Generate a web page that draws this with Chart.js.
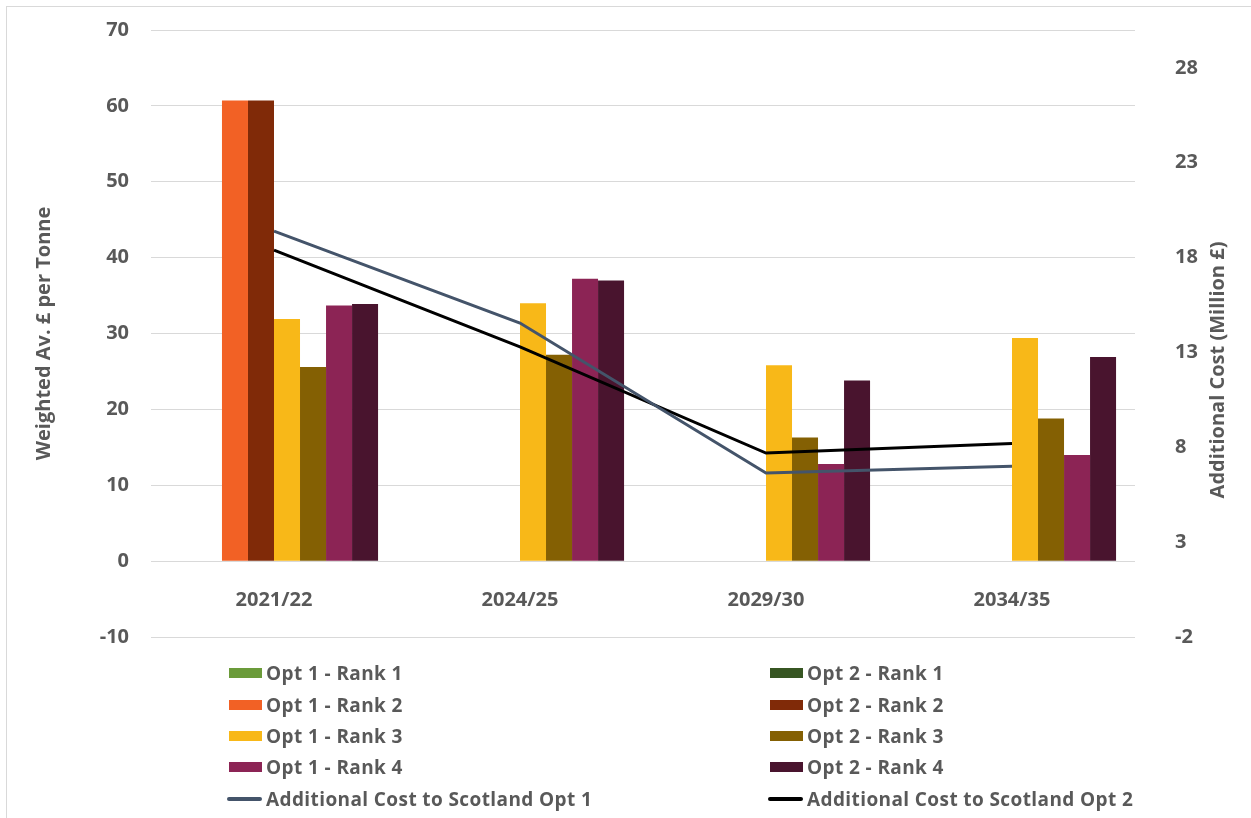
<!DOCTYPE html>
<html>
<head>
<meta charset="utf-8">
<script src="https://cdn.jsdelivr.net/npm/chart.js@4.4.1/dist/chart.umd.min.js"></script>
<style>
  html, body { margin: 0; padding: 0; background: #fff; overflow: hidden; }
  #wrap { position: relative; width: 1251px; height: 818px; }
  #frame { position: absolute; left: 6px; top: 6px; width: 1260px; height: 830px; border: 1px solid #d9d9d9; }
  #costChart { position: absolute; left: 0; top: 0; }
  #legend { position: absolute; left: 0; top: 0; font-family: "Open Sans", sans-serif; font-size: 19px; font-weight: bold; letter-spacing: 0.4px; color: #595959; }
  .item { position: absolute; display: flex; align-items: center; height: 24px; white-space: nowrap; }
  .swatch { width: 33px; height: 10px; margin-right: 4px; }
  .stroke { width: 35px; height: 4px; border-radius: 2px; margin-right: 4px; }
</style>
</head>
<body>
<div id="wrap">
  <div id="frame"></div>
  <canvas id="costChart" width="1251" height="818"></canvas>
  <div id="legend"></div>
</div>
<script>
// values
const years = ['2021/22', '2024/25', '2029/30', '2034/35'];

const opt1Rank1 = [0, 0, 0, 0];
const opt2Rank1 = [0, 0, 0, 0];
const opt1Rank2 = [60.7, 0, 0, 0];
const opt2Rank2 = [60.7, 0, 0, 0];
const opt1Rank3 = [31.9, 34.0, 25.8, 29.4];
const opt2Rank3 = [25.6, 27.2, 16.3, 18.8];
const opt1Rank4 = [33.7, 37.2, 12.8, 14.0];
const opt2Rank4 = [33.9, 37.0, 23.8, 26.9];

const costOpt1 = [19.4, 14.55, 6.65, 7.0];
const costOpt2 = [18.4, 13.3, 7.7, 8.2];

const leftTicks = [-10, 0, 10, 20, 30, 40, 50, 60, 70];
const rightTicks = [-2, 3, 8, 13, 18, 23, 28];

const grey = '#595959';
const tickFont = { family: '"Open Sans", sans-serif', size: 20, weight: 'bold' };
const titleFont = { family: '"Open Sans", sans-serif', size: 20, weight: 'bold' };

function bar(label, data, color) {
    return { type: 'bar', label: label, data: data, backgroundColor: color, borderWidth: 0, yAxisID: 'y', order: 1 };
}
function line(label, data, color) {
    return { type: 'line', label: label, data: data, borderColor: color, backgroundColor: color,
             borderWidth: 3, pointRadius: 0, tension: 0, yAxisID: 'y1', order: 0 };
}

const datasets = [
    bar('Opt 1 - Rank 1', opt1Rank1, '#6B9B3A'),
    bar('Opt 2 - Rank 1', opt2Rank1, '#375623'),
    bar('Opt 1 - Rank 2', opt1Rank2, '#F26125'),
    bar('Opt 2 - Rank 2', opt2Rank2, '#802A08'),
    bar('Opt 1 - Rank 3', opt1Rank3, '#F8B818'),
    bar('Opt 2 - Rank 3', opt2Rank3, '#846003'),
    bar('Opt 1 - Rank 4', opt1Rank4, '#8C2455'),
    bar('Opt 2 - Rank 4', opt2Rank4, '#49142E'),
    line('Additional Cost to Scotland Opt 1', costOpt1, '#44546A'),
    line('Additional Cost to Scotland Opt 2', costOpt2, '#000000')
];

// right axis title reads bottom-to-top like the left one
const rightTitle = {
    id: 'rightTitle',
    afterDraw(chart) {
        const c = chart.ctx;
        c.save();
        c.translate(1218, 370);
        c.rotate(-Math.PI / 2);
        c.font = 'bold 20px "Open Sans", sans-serif';
        c.fillStyle = grey;
        c.textAlign = 'center';
        c.textBaseline = 'middle';
        c.fillText('Additional Cost (Million £)', 0, 0);
        c.restore();
    }
};

// fixed axis width, and no extra top/bottom padding from tick labels
function fixWidth(w) {
    return s => { s.width = w; s.paddingTop = 0; s.paddingBottom = 0; };
}

const ctx = document.getElementById('costChart').getContext('2d');
const costChart = new Chart(ctx, {
    data: { labels: years, datasets: datasets },
    plugins: [rightTitle],
    options: {
        responsive: false,
        animation: false,
        layout: { padding: { top: 30, bottom: 181, left: 0, right: 0 } },
        datasets: { bar: { categoryPercentage: 0.846, barPercentage: 1 } },
        plugins: { legend: { display: false }, tooltip: { enabled: false } },
        scales: {
            x: {
                type: 'category',
                position: { y: 0 },
                grid: { display: false },
                border: { display: false },
                ticks: { color: grey, font: tickFont, padding: 19 },
                afterFit: s => { s.height = 0; }
            },
            y: {
                position: 'left',
                min: -10, max: 70,
                afterBuildTicks: s => { s.ticks = leftTicks.map(v => ({ value: v })); },
                grid: { color: '#d9d9d9', lineWidth: 1, drawTicks: false },
                border: { display: false },
                ticks: { color: grey, font: tickFont, padding: 22 },
                title: { display: true, text: 'Weighted Av. £ per Tonne', color: grey, font: titleFont, padding: { top: 32, bottom: 0 } },
                afterFit: fixWidth(151)
            },
            y1: {
                position: 'right',
                min: -2, max: 30,
                afterBuildTicks: s => { s.ticks = rightTicks.map(v => ({ value: v })); },
                grid: { display: false, drawTicks: false },
                border: { display: false },
                ticks: { color: grey, font: tickFont, padding: 40 },
                afterFit: fixWidth(116)
            }
        }
    }
});

// two-column legend below the plot, built from the chart's datasets
const legendDiv = document.getElementById('legend');
const colX = [229, 770];
const rowY = [661, 693, 724, 755, 787];
costChart.data.datasets.forEach((ds, i) => {
    const item = document.createElement('div');
    item.className = 'item';
    const isLine = ds.type === 'line';
    item.style.left = (colX[i % 2] - (isLine ? 2 : 0)) + 'px';
    item.style.top = rowY[Math.floor(i / 2)] + 'px';
    const mark = document.createElement('span');
    mark.className = isLine ? 'stroke' : 'swatch';
    mark.style.background = isLine ? ds.borderColor : ds.backgroundColor;
    item.appendChild(mark);
    item.appendChild(document.createTextNode(ds.label));
    legendDiv.appendChild(item);
});
</script>
</body>
</html>
